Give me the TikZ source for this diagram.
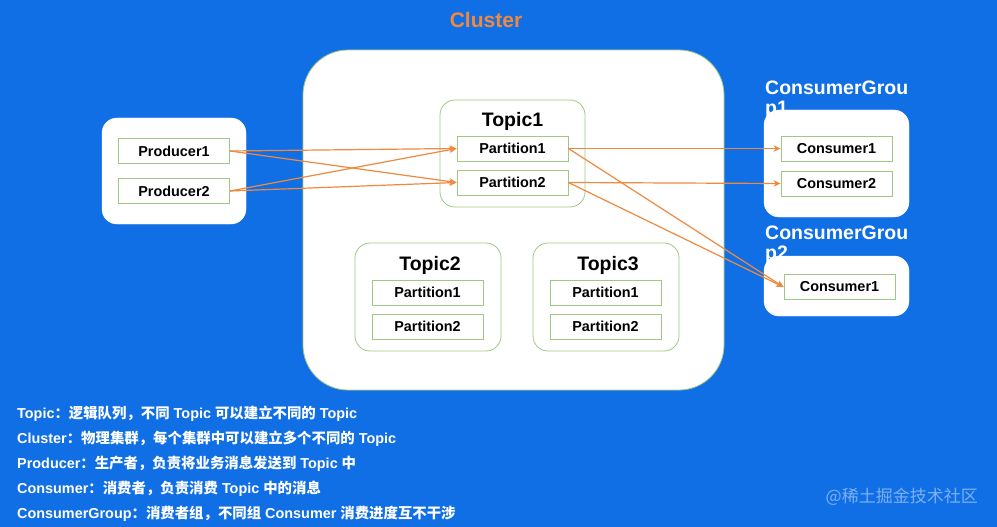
\documentclass[tikz,border=0pt]{standalone}
\usepackage{fontspec}
\setmainfont{Liberation Sans}
\newfontfamily\cjk{Noto Sans CJK SC}
\newcommand\zh[1]{{\cjk #1}}
\usetikzlibrary{arrows.meta}
\definecolor{bgblue}{RGB}{17,111,230}
\definecolor{boxgreen}{RGB}{160,200,130}
\definecolor{arrorange}{RGB}{240,136,62}
\begin{document}
\begin{tikzpicture}[x=1pt,y=-1pt,
  part/.style={draw=boxgreen,fill=white,line width=0.9pt,minimum width=111pt,minimum height=25pt,inner sep=0pt,font=\bfseries\fontsize{14.4}{16}\selectfont},
  container/.style={draw=boxgreen,fill=white,line width=0.8pt,rounded corners=15pt,inner sep=0pt},
  group/.style={draw=white,fill=white,rounded corners=15pt,inner sep=0pt},
  ttl/.style={font=\bfseries\fontsize{19.5}{21}\selectfont,inner sep=0pt},
  grpttl/.style={font=\bfseries\fontsize{19.5}{21}\selectfont,text=white,inner sep=0pt,anchor=north west,align=left},
  note/.style={font=\bfseries\fontsize{14.4}{16}\selectfont,text=white,anchor=west,inner sep=0pt},
  flow/.style={draw=arrorange,line width=1.2pt,-{Stealth[length=7pt,width=6.5pt]}}]
\fill[bgblue] (0,0) rectangle (997,527);
\useasboundingbox (0,0) rectangle (997,527);

% cluster
\node[ttl,text=arrorange,font=\bfseries\fontsize{21}{23}\selectfont] (clt) at (486,20) {Cluster};
\node[container,rounded corners=45pt,minimum width=421pt,minimum height=340pt] (cluster) at (513.5,220) {};

% producers
\node[group,minimum width=144pt,minimum height=106pt] (pbox) at (174,171) {};
\node[part] (p1) at (174,151) {Producer1};
\node[part] (p2) at (174,191) {Producer2};

% topic1
\node[container,minimum width=145pt,minimum height=107pt] (t1) at (512.5,153.5) {};
\node[ttl] (t1l) at (512.5,121) {Topic1};
\node[part] (t1p1) at (512.5,148.5) {Partition1};
\node[part] (t1p2) at (512.5,182.5) {Partition2};

% topic2
\node[container,minimum width=146pt,minimum height=108pt] (t2) at (428,297) {};
\node[ttl] (t2l) at (430,265) {Topic2};
\node[part] (t2p1) at (427.5,292.5) {Partition1};
\node[part] (t2p2) at (427.5,326.5) {Partition2};

% topic3
\node[container,minimum width=146pt,minimum height=108pt] (t3) at (606,297) {};
\node[ttl] (t3l) at (608,265) {Topic3};
\node[part] (t3p1) at (605.5,292.5) {Partition1};
\node[part] (t3p2) at (605.5,326.5) {Partition2};

% consumer groups
\node[grpttl] (g1l) at (765,81) {ConsumerGrou\\[-1pt]p1};
\node[group,minimum width=145pt,minimum height=107pt] (g1) at (836.5,163.5) {};
\node[part] (c1) at (836.5,148.5) {Consumer1};
\node[part] (c2) at (836.5,183.5) {Consumer2};

\node[grpttl] (g2l) at (765,226) {ConsumerGrou\\[-1pt]p2};
\node[group,minimum width=145pt,minimum height=60pt] (g2) at (836.5,286) {};
\node[part] (c3) at (839.5,287) {Consumer1};

% arrows
\draw[flow] (p1.east) -- (t1p1.west);
\draw[flow] (p1.east) -- (t1p2.west);
\draw[flow] (p2.east) -- (t1p1.west);
\draw[flow] (p2.east) -- (t1p2.west);
\draw[flow] (t1p1.east) -- (c1.west);
\draw[flow] (t1p2.east) -- (c2.west);
\draw[flow] (t1p1.east) -- (c3.west);
\draw[flow] (t1p2.east) -- (c3.west);

% notes
\node[note] (n1) at (17,414) {Topic\zh{：逻辑队列，不同} Topic \zh{可以建立不同的} Topic};
\node[note] (n2) at (17,439) {Cluster\zh{：物理集群，每个集群中可以建立多个不同的} Topic};
\node[note] (n3) at (17,464) {Producer\zh{：生产者，负责将业务消息发送到} Topic \zh{中}};
\node[note] (n4) at (17,489) {Consumer\zh{：消费者，负责消费} Topic \zh{中的消息}};
\node[note] (n5) at (17,514) {ConsumerGroup\zh{：消费者组，不同组} Consumer \zh{消费进度互不干涉}};

% watermark
\node[font=\cjk\fontsize{17}{19}\selectfont,text=white,text opacity=0.45,anchor=east,inner sep=0pt] (wm) at (978,497) {@稀土掘金技术社区};
\end{tikzpicture}
\end{document}
